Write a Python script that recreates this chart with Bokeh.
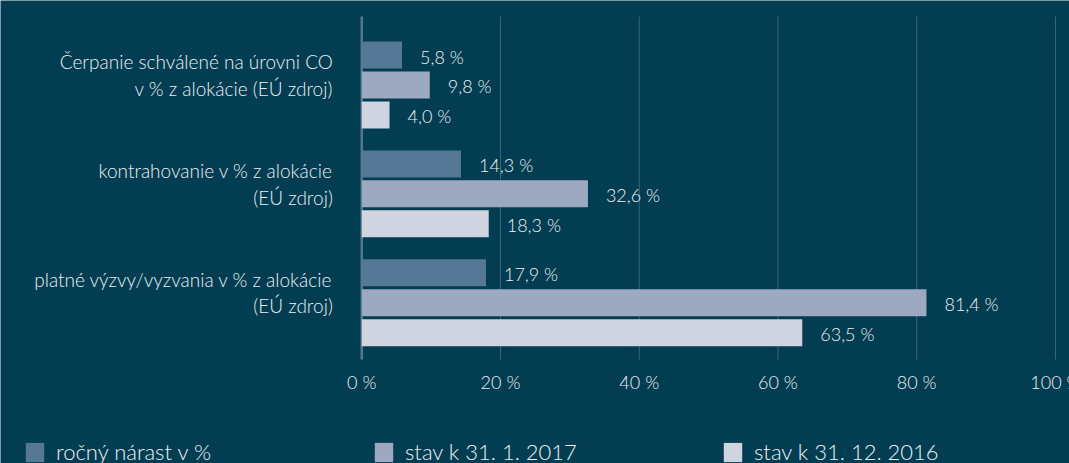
from bokeh.plotting import figure
from bokeh.models import Range1d, Legend, LegendItem, ColumnDataSource
from bokeh.core.properties import value
from bokeh.embed import file_html
from bokeh.resources import INLINE

# ---- data ----
categories = [
    ["Čerpanie schválené na úrovni CO", "v % z alokácie (EÚ zdroj)"],
    ["kontrahovanie v % z alokácie", "(EÚ zdroj)"],
    ["platné výzvy/vyzvania v % z alokácie", "(EÚ zdroj)"],
]
series_names = ["ročný nárast v %", "stav k 31. 1. 2017", "stav k 31. 12. 2016"]
rocny_narast = [5.8, 14.3, 17.9]
stav_2017 = [9.8, 32.6, 81.4]
stav_2016 = [4.0, 18.3, 63.5]
x_ticks = [0, 20, 40, 60, 80, 100]
tick_labels = ["0 %", "20 %", "40 %", "60 %", "80 %", "100 %"]

# ---- style / layout ----
BG = "#033d52"
COLORS = ["#557896", "#9da9c0", "#d0d4e0"]
TXT = "#eceff3"
FONT = "Lato Light, Lato"
GRID = "#3a6680"
GRID_TOP, GRID_BOTTOM = -0.629, 2.522   # vertical extent of grid lines
TICK_Y = 2.724                           # row of tick labels

p = figure(width=1069, height=463, output_backend="svg", toolbar_location=None,
           x_range=Range1d(-52.08, 102.02), y_range=Range1d(3.4773, -0.7763),
           min_border=0, min_border_left=0, min_border_right=0,
           min_border_top=0, min_border_bottom=0)
p.background_fill_color = BG
p.border_fill_color = BG
p.outline_line_color = None
p.xaxis.visible = False
p.yaxis.visible = False
p.xgrid.grid_line_color = None
p.ygrid.grid_line_color = None

# grid lines (from tick list)
grid_x = x_ticks[1:]
p.segment(x0=grid_x, x1=grid_x, y0=[GRID_TOP] * len(grid_x), y1=[GRID_BOTTOM] * len(grid_x),
          line_color=GRID, line_width=1)
# zero axis line
p.segment(x0=[x_ticks[0]], x1=[x_ticks[0]], y0=[GRID_TOP], y1=[GRID_BOTTOM],
          line_color="#557892", line_width=2.5)
# tick labels
p.text(x=x_ticks, y=[TICK_Y] * len(x_ticks), text=tick_labels,
       text_align="center", text_baseline="middle", text_color=TXT,
       text_font=value(FONT), text_font_size="18px")

offsets = [-0.275, 0.0, 0.275]
bar_h = 0.248
all_series = [rocny_narast, stav_2017, stav_2016]
renderers = []
for k, vals in enumerate(all_series):
    ys = [i + offsets[k] for i in range(len(vals))]
    src = ColumnDataSource(dict(y=ys, right=vals,
                                lab=[f"{v:.1f}".replace(".", ",") + " %" for v in vals]))
    r = p.hbar(y="y", right="right", left=0, height=bar_h, source=src,
               fill_color=COLORS[k], line_color=None)
    renderers.append(r)
    p.text(x="right", y="y", text="lab", source=src, x_offset=18, y_offset=1.5,
           text_baseline="middle", text_align="left", text_color=TXT,
           text_font=value(FONT), text_font_size="18px")

# category labels (two lines each), right-aligned left of the zero line
cat_x, cat_y, cat_t = [], [], []
for i, lines in enumerate(categories):
    for j, line in enumerate(lines):
        cat_x.append(0)
        cat_y.append(i + (-0.215 if j == 0 else 0.03))
        cat_t.append(line)
p.text(x=cat_x, y=cat_y, text=cat_t, x_offset=-29, text_align="right",
       text_baseline="middle", text_color=TXT,
       text_font=value(FONT), text_font_size="19px")

legend = Legend(items=[LegendItem(label=series_names[k], renderers=[renderers[k]]) for k in range(3)],
                orientation="horizontal", location=(23, -2),
                glyph_width=23, glyph_height=24, label_standoff=10, label_width=316,
                spacing=0, padding=0, margin=0,
                background_fill_alpha=0, border_line_color=None,
                label_text_font=FONT, label_text_font_size="22px", label_text_color=TXT)
p.add_layout(legend)

open("out.html", "w").write(file_html(p, INLINE))
